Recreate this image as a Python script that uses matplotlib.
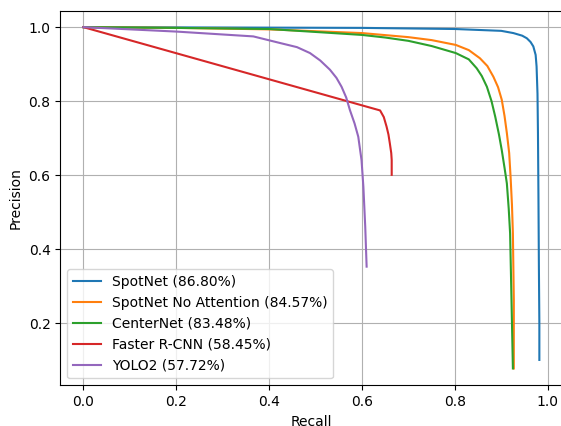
import matplotlib
matplotlib.use("Agg")
import matplotlib.pyplot as plt

# Werte (Recall, Precision)
spotnet_r = [0.0, 0.3, 0.6, 0.8, 0.9, 0.926, 0.945, 0.955, 0.963, 0.969, 0.974, 0.976, 0.978, 0.979, 0.980, 0.981, 0.982, 0.982]
spotnet_p = [1.0, 0.999, 0.998, 0.995, 0.99, 0.984, 0.977, 0.970, 0.960, 0.948, 0.925, 0.894, 0.82, 0.714, 0.55, 0.353, 0.2, 0.101]

noatt_r = [0.0, 0.2, 0.4, 0.6, 0.7, 0.75, 0.802, 0.83, 0.854, 0.87, 0.883, 0.893, 0.901, 0.907, 0.912, 0.917, 0.920, 0.923, 0.925, 0.927, 0.927]
noatt_p = [1.0, 0.998, 0.994, 0.984, 0.973, 0.965, 0.952, 0.938, 0.916, 0.895, 0.866, 0.838, 0.804, 0.76, 0.714, 0.66, 0.596, 0.52, 0.443, 0.263, 0.078]

centernet_r = [0.0, 0.2, 0.4, 0.6, 0.65, 0.7, 0.75, 0.802, 0.83, 0.847, 0.858, 0.869, 0.879, 0.887, 0.895, 0.901, 0.907, 0.912, 0.916, 0.919, 0.922, 0.925]
centernet_p = [1.0, 0.998, 0.995, 0.979, 0.972, 0.963, 0.949, 0.930, 0.913, 0.889, 0.868, 0.839, 0.80, 0.758, 0.71, 0.668, 0.62, 0.578, 0.51, 0.443, 0.263, 0.078]

frcnn_r = [0.0, 0.639, 0.647, 0.653, 0.657, 0.660, 0.663, 0.664, 0.664]
frcnn_p = [1.0, 0.775, 0.757, 0.731, 0.71, 0.686, 0.66, 0.641, 0.601]

yolo_r = [0.0, 0.201, 0.366, 0.424, 0.46, 0.488, 0.51, 0.531, 0.545, 0.556, 0.566, 0.574, 0.584, 0.592, 0.599, 0.603, 0.607, 0.610]
yolo_p = [1.0, 0.988, 0.975, 0.957, 0.946, 0.930, 0.91, 0.885, 0.863, 0.839, 0.81, 0.776, 0.74, 0.704, 0.641, 0.569, 0.461, 0.353]

labels = ["SpotNet (86.80%)", "SpotNet No Attention (84.57%)", "CenterNet (83.48%)",
          "Faster R-CNN (58.45%)", "YOLO2 (57.72%)"]

fig = plt.figure(figsize=(5.61, 4.26), dpi=100)
ax = fig.add_axes([0.1075, 0.0955, 0.8934, 0.879])

ax.plot(spotnet_r, spotnet_p, label=labels[0])
ax.plot(noatt_r, noatt_p, label=labels[1])
ax.plot(centernet_r, centernet_p, label=labels[2])
ax.plot(frcnn_r, frcnn_p, label=labels[3])
ax.plot(yolo_r, yolo_p, label=labels[4])

ax.set_xlim(-0.0497, 1.0297)
ax.set_ylim(0.0324, 1.044)
ax.set_xticks([0.0, 0.2, 0.4, 0.6, 0.8, 1.0])
ax.set_yticks([0.2, 0.4, 0.6, 0.8, 1.0])
ax.set_xlabel("Recall")
ax.set_ylabel("Precision")
ax.grid(True)
ax.legend(loc="lower left")
# rechte Achse liegt im Original ausserhalb des Bildes
ax.spines["right"].set_visible(False)

fig.savefig("out.png", dpi=100)
